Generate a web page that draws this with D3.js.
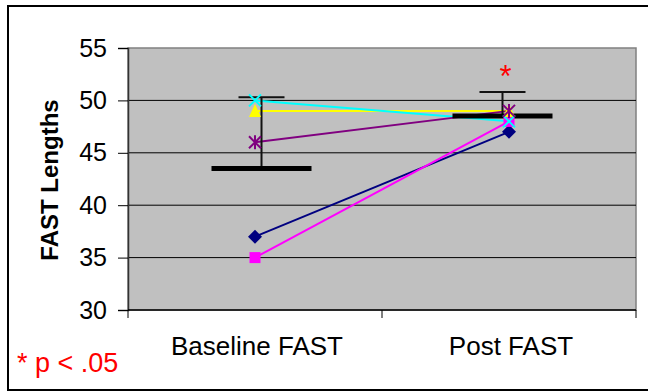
<!DOCTYPE html>
<html>
<head>
<meta charset="utf-8">
<script src="https://cdn.jsdelivr.net/npm/d3@7/dist/d3.min.js"></script>
<style>
  html, body { margin: 0; padding: 0; background: #fff; }
  svg { display: block; font-family: "Liberation Sans", Arial, sans-serif; }
</style>
</head>
<body>
<svg id="chart" width="648" height="392"></svg>
<script>
// Categories and per-subject FAST lengths
const categories = ["Baseline FAST", "Post FAST"];
const subjectA = [37, 47];   // navy diamond
const subjectB = [35, 48];   // magenta square
const subjectC = [49, 49];   // yellow triangle
const subjectD = [50, 48];   // cyan cross
const subjectE = [46, 49];   // purple star
// Group means and upper error bars
const groupMean = [43.5, 48.5];
const groupUpper = [50.3, 50.8];
const yTicks = [30, 35, 40, 45, 50, 55];

const series = [
  { name: "A", values: subjectA, color: "#000080", shape: "diamond" },
  { name: "B", values: subjectB, color: "#FF00FF", shape: "square" },
  { name: "C", values: subjectC, color: "#FFFF00", shape: "triangle" },
  { name: "D", values: subjectD, color: "#00FFFF", shape: "cross" },
  { name: "E", values: subjectE, color: "#800080", shape: "star" }
];

const svg = d3.select("#chart");
const plot = { left: 128, top: 48, right: 636, bottom: 310 };

const x = d3.scaleBand().domain(categories).range([plot.left, plot.right]);
const xCenter = c => x(c) + x.bandwidth() / 2;
// the summary series sits on its own point scale
const xMean = d3.scalePoint().domain(categories).range([plot.left, plot.right]).padding(0.554);
const y = d3.scaleLinear().domain([30, 55]).range([plot.bottom, plot.top]);

// outer frame
svg.append("rect")
  .attr("x", 8).attr("y", 6).attr("width", 700).attr("height", 384)
  .attr("fill", "none").attr("stroke", "#000").attr("stroke-width", 2);

// plot area
svg.append("rect")
  .attr("x", plot.left).attr("y", plot.top)
  .attr("width", plot.right - plot.left).attr("height", plot.bottom - plot.top)
  .attr("fill", "#C0C0C0").attr("stroke", "#808080").attr("stroke-width", 1.5);

// gridlines
svg.append("g").selectAll("line")
  .data(yTicks.filter(t => t > 30 && t < 55))
  .join("line")
  .attr("x1", plot.left).attr("x2", plot.right)
  .attr("y1", d => y(d)).attr("y2", d => y(d))
  .attr("stroke", "#000").attr("stroke-width", 1);

// y axis
const yAxis = svg.append("g")
  .attr("transform", `translate(${plot.left},0)`)
  .call(d3.axisLeft(y).tickValues(yTicks).tickSize(10).tickPadding(11));
yAxis.select(".domain").attr("stroke", "#333").attr("stroke-width", 1.5);
yAxis.selectAll(".tick line").attr("stroke", "#000");
yAxis.selectAll(".tick text")
  .attr("font-size", 25).attr("fill", "#000")
  .attr("font-family", "'Liberation Sans', Arial, sans-serif");

// x axis with ticks between categories
const xAxis = svg.append("g").attr("transform", `translate(0,${plot.bottom})`);
xAxis.append("line")
  .attr("x1", plot.left).attr("x2", plot.right)
  .attr("stroke", "#000").attr("stroke-width", 1.5);
const boundaries = [plot.left, ...categories.slice(1).map(c => x(c)), plot.right];
xAxis.selectAll("line.tk").data(boundaries).join("line")
  .attr("class", "tk")
  .attr("x1", d => d).attr("x2", d => d)
  .attr("y1", 0).attr("y2", 8)
  .attr("stroke", "#000").attr("stroke-width", 1);
xAxis.selectAll("text").data(categories).join("text")
  .attr("x", d => xCenter(d) + 2).attr("y", 45)
  .attr("text-anchor", "middle")
  .attr("font-size", 26).attr("fill", "#000")
  .text(d => d);

// axis title
svg.append("text")
  .attr("transform", `translate(58,180) rotate(-90)`)
  .attr("text-anchor", "middle")
  .attr("font-size", 24).attr("font-weight", "bold")
  .text("FAST Lengths");

// subject lines
const line = d3.line()
  .x((d, i) => xCenter(categories[i]))
  .y(d => y(d));
svg.append("g").selectAll("path")
  .data(series).join("path")
  .attr("d", s => line(s.values))
  .attr("fill", "none")
  .attr("stroke", s => s.color)
  .attr("stroke-width", 2);

// group means with upper error bars
const meanG = svg.append("g");
categories.forEach((c, i) => {
  const cx = xMean(c);
  meanG.append("line")
    .attr("x1", cx).attr("x2", cx)
    .attr("y1", y(groupMean[i])).attr("y2", y(groupUpper[i]))
    .attr("stroke", "#111").attr("stroke-width", 2);
  meanG.append("line")
    .attr("x1", cx - 23).attr("x2", cx + 23)
    .attr("y1", y(groupUpper[i])).attr("y2", y(groupUpper[i]))
    .attr("stroke", "#111").attr("stroke-width", 2);
  meanG.append("line")
    .attr("x1", cx - 50).attr("x2", cx + 50)
    .attr("y1", y(groupMean[i])).attr("y2", y(groupMean[i]))
    .attr("stroke", "#000").attr("stroke-width", 5);
});

// markers
function marker(g, shape, color) {
  const r = 6;
  if (shape === "diamond") {
    g.append("path").attr("d", `M0,${-r - 1}L${r + 1},0L0,${r + 1}L${-r - 1},0Z`).attr("fill", color);
  } else if (shape === "square") {
    g.append("rect").attr("x", -5.5).attr("y", -5.5).attr("width", 11).attr("height", 11).attr("fill", color);
  } else if (shape === "triangle") {
    g.append("path").attr("d", `M0,${-r - 1}L${r},${r}L${-r},${r}Z`).attr("fill", color);
  } else if (shape === "cross") {
    g.append("path").attr("d", `M${-r},${-r}L${r},${r}M${-r},${r}L${r},${-r}`)
      .attr("stroke", color).attr("stroke-width", 2);
  } else if (shape === "star") {
    g.append("path").attr("d", `M${-r},${-r}L${r},${r}M${-r},${r}L${r},${-r}M0,${-r - 1}L0,${r + 1}`)
      .attr("stroke", color).attr("stroke-width", 2);
  }
}
series.forEach(s => {
  s.values.forEach((v, i) => {
    const g = svg.append("g")
      .attr("transform", `translate(${xCenter(categories[i])},${y(v)})`);
    marker(g, s.shape, s.color);
  });
});

// significance annotations
svg.append("text")
  .attr("x", xMean(categories[1]) + 3).attr("y", 87)
  .attr("text-anchor", "middle")
  .attr("font-size", 31).attr("fill", "#FF0000")
  .text("*");
svg.append("text")
  .attr("x", 17).attr("y", 372)
  .attr("font-size", 27).attr("fill", "#FF0000")
  .attr("xml:space", "preserve")
  .text("* p < .05");
</script>
</body>
</html>
